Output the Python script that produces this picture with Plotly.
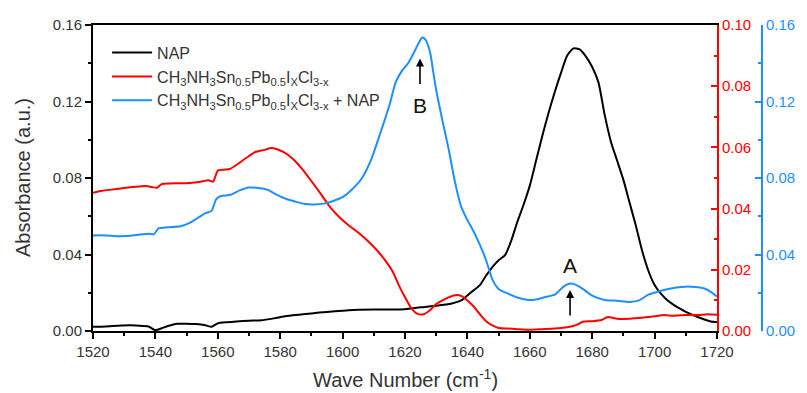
import plotly.graph_objects as go

# ---------------- data ----------------
nap_x = [1520, 1524, 1528, 1532, 1536, 1538, 1540, 1542, 1544, 1547, 1550, 1553, 1556, 1558, 1560, 1563,
         1566, 1570, 1574, 1578, 1582, 1586, 1590, 1595, 1600, 1605, 1610, 1615, 1620, 1625, 1630, 1635,
         1638, 1641, 1644, 1646, 1648, 1650, 1652, 1654, 1656, 1658, 1660, 1662, 1664, 1666, 1668, 1670,
         1672, 1674, 1676, 1678, 1680, 1682, 1684, 1686, 1688, 1690, 1692, 1694, 1696, 1698, 1700, 1702,
         1704, 1706, 1708, 1710, 1712, 1714, 1716, 1718, 1720]
nap_y = [.0022, .0024, .0028, .0030, .0026, .0022, .0004, .0014, .0026, .0038, .0038, .0036, .0030, .0022,
         .0040, .0046, .0050, .0054, .0056, .0066, .0078, .0085, .0092, .0100, .0106, .0111, .0112, .0112,
         .0114, .0124, .0132, .0144, .0160, .0200, .0240, .0290, .0334, .0370, .0395, .0470, .0570, .0660,
         .0760, .0890, .1020, .1140, .1250, .1350, .1440, .1478, .1472, .1435, .1380, .1300, .1130, .0990,
         .0890, .0790, .0670, .0550, .0420, .0315, .0240, .0195, .0162, .0138, .0118, .0100, .0085, .0072,
         .0060, .0050, .0047]

blue_x = [1520, 1524, 1528, 1532, 1535, 1538, 1539.5, 1541, 1544, 1548, 1551, 1554, 1556, 1558, 1559.5,
          1561, 1564, 1567, 1570, 1573, 1576, 1579, 1582, 1585, 1588, 1591, 1594, 1597, 1600, 1603, 1606,
          1609, 1612, 1615, 1617, 1619, 1621, 1623, 1624.5, 1625.5, 1626.5, 1628, 1629, 1630, 1632, 1634,
          1636, 1638, 1640, 1642, 1644, 1646, 1648, 1650, 1653, 1656, 1659, 1662, 1665, 1668, 1671, 1673,
          1675, 1677, 1680, 1684, 1688, 1692, 1695, 1698, 1701, 1704, 1707, 1710, 1713, 1716, 1718, 1720]
blue_y = [.0500, .0500, .0496, .0498, .0504, .0508, .0506, .0536, .0542, .0548, .0565, .0595, .0616, .0628,
          .0690, .0706, .0712, .0735, .0750, .0748, .0738, .0712, .0690, .0676, .0664, .0662, .0666, .0680,
          .0700, .0740, .0795, .0890, .1030, .1180, .1300, .1360, .1400, .1460, .1510, .1535, .1525, .1460,
          .1360, .1260, .1100, .0950, .0780, .0650, .0580, .0520, .0450, .0370, .0270, .0220, .0195, .0175,
          .0163, .0165, .0178, .0190, .0235, .0248, .0240, .0220, .0185, .0162, .0158, .0152, .0160, .0190,
          .0205, .0218, .0228, .0232, .0230, .0222, .0205, .0180]

red_x = [1520, 1523, 1526, 1529, 1532, 1535, 1537, 1539, 1540.5, 1542, 1545, 1548, 1551, 1554, 1557, 1558.5,
         1560, 1562, 1564, 1567, 1570, 1572, 1575, 1577, 1579, 1581, 1584, 1587, 1590, 1593, 1596, 1599,
         1602, 1605, 1608, 1611, 1614, 1616, 1618, 1620, 1622, 1624, 1626, 1628, 1630, 1632, 1634, 1636,
         1638, 1640, 1642, 1644, 1646, 1648, 1650, 1653, 1656, 1660, 1664, 1668, 1672, 1675, 1677, 1680,
         1683, 1685, 1688, 1692, 1696, 1700, 1703, 1706, 1710, 1714, 1717, 1720]
red_y = [.0452, .0458, .0462, .0466, .0470, .0472, .0474, .0470, .0468, .0480, .0482, .0483, .0484, .0487,
         .0493, .0488, .0524, .0527, .0530, .0550, .0572, .0585, .0592, .0598, .0594, .0585, .0563, .0530,
         .0490, .0448, .0405, .0372, .0345, .0322, .0295, .0264, .0226, .0195, .0150, .0110, .0075, .0056,
         .0055, .0068, .0088, .0100, .0110, .0117, .0115, .0100, .0080, .0055, .0032, .0018, .0010, .0008,
         .0006, .0004, .0006, .0008, .0012, .0020, .0030, .0032, .0036, .0046, .0040, .0040, .0043, .0048,
         .0052, .0050, .0052, .0052, .0055, .0053]

x_ticks = [1520, 1540, 1560, 1580, 1600, 1620, 1640, 1660, 1680, 1700, 1720]
left_ticks = [0.00, 0.04, 0.08, 0.12, 0.16]
red_ticks = [0.00, 0.02, 0.04, 0.06, 0.08, 0.10]

names = ["NAP",
         "CH<sub>3</sub>NH<sub>3</sub>Sn<sub>0.5</sub>Pb<sub>0.5</sub>I<sub>X</sub>Cl<sub>3-x</sub>",
         "CH<sub>3</sub>NH<sub>3</sub>Sn<sub>0.5</sub>Pb<sub>0.5</sub>I<sub>X</sub>Cl<sub>3-x</sub> + NAP"]

BLACK = "#000000"
RED = "#FF0000"
BLUE = "#1E8FFF"
TXT = "#333333"
FONT = "Arial, Liberation Sans, sans-serif"

fig = go.Figure()
fig.add_trace(go.Scatter(x=nap_x, y=nap_y, mode="lines", name=names[0],
                         line=dict(color=BLACK, width=2, shape="spline", smoothing=0.6), yaxis="y"))
fig.add_trace(go.Scatter(x=red_x, y=red_y, mode="lines", name=names[1],
                         line=dict(color=RED, width=2, shape="spline", smoothing=0.6), yaxis="y2"))
fig.add_trace(go.Scatter(x=blue_x, y=blue_y, mode="lines", name=names[2],
                         line=dict(color=BLUE, width=2, shape="spline", smoothing=0.6), yaxis="y3"))

W, H = 807, 393
ml, mr, mt, mb = 93, 10, 25, 62
pw = W - ml - mr
x_end = (717 - ml) / pw
blue_pos = (762 - ml) / pw

fig.update_layout(
    width=W, height=H,
    margin=dict(l=ml, r=mr, t=mt, b=mb, autoexpand=False),
    paper_bgcolor="white", plot_bgcolor="white",
    font=dict(family=FONT, size=15, color=TXT),
    showlegend=True,
    legend=dict(x=0.02, y=0.965, xanchor="left", yanchor="top",
                bgcolor="rgba(0,0,0,0)", font=dict(size=16, color=TXT),
                tracegroupgap=0, itemwidth=40),
    xaxis=dict(domain=[0, x_end], range=[1520, 1720], tickvals=x_ticks, automargin=False,
               ticks="outside", ticklen=6, tickwidth=1.5, tickcolor=BLACK,
               showline=True, linecolor=BLACK, linewidth=2, mirror=True,
               showgrid=False, zeroline=False,
               minor=dict(dtick=10, ticks="outside", ticklen=3, tickwidth=1.5, tickcolor=BLACK),
               tickfont=dict(size=15, color=TXT)),
    yaxis=dict(range=[0, 0.16], tickvals=left_ticks, tickformat=".2f", automargin=False,
               ticks="outside", ticklen=6, tickwidth=1.5, tickcolor=BLACK,
               showline=True, linecolor=BLACK, linewidth=2,
               showgrid=False, zeroline=False,
               minor=dict(dtick=0.02, ticks="outside", ticklen=3, tickwidth=1.5, tickcolor=BLACK),
               tickfont=dict(size=15, color=TXT)),
    yaxis2=dict(range=[0, 0.10], tickvals=red_ticks, tickformat=".2f", automargin=False,
                overlaying="y", side="right", anchor="x",
                ticks="inside", ticklen=6, tickwidth=1.5, tickcolor=RED,
                showline=True, linecolor=RED, linewidth=2,
                showgrid=False, zeroline=False,
                minor=dict(dtick=0.01, ticks="inside", ticklen=3, tickwidth=1.5, tickcolor=RED),
                tickfont=dict(size=15, color=RED)),
    yaxis3=dict(range=[0, 0.16], tickvals=left_ticks, tickformat=".2f", automargin=False,
                overlaying="y", side="right", anchor="free", position=blue_pos,
                ticks="inside", ticklen=6, tickwidth=1.5, tickcolor=BLUE,
                showline=True, linecolor=BLUE, linewidth=2,
                showgrid=False, zeroline=False,
                minor=dict(dtick=0.02, ticks="inside", ticklen=3, tickwidth=1.5, tickcolor=BLUE),
                tickfont=dict(size=15, color=BLUE)),
)

# axis titles
fig.add_annotation(text="Absorbance (a.u.)", xref="paper", yref="paper", x=0, y=0.5,
                   xanchor="center", yanchor="middle", xshift=-70, textangle=-90,
                   showarrow=False, font=dict(size=20, color=TXT))
fig.add_annotation(text="Wave Number (cm<sup>-1</sup>)", xref="paper", yref="paper",
                   x=x_end / 2, y=0, xanchor="center", yanchor="middle", yshift=-47,
                   showarrow=False, font=dict(size=20, color=TXT))

# peak labels and arrows
fig.add_annotation(text="B", x=1624.8, y=0.118, xref="x", yref="y", showarrow=False,
                   font=dict(size=21, color="#111111"))
fig.add_annotation(text="", x=1624.8, y=0.1425, xref="x", yref="y", ax=0, ay=27,
                   showarrow=True, arrowhead=2, arrowsize=1, arrowwidth=1.6, arrowcolor=BLACK)
fig.add_annotation(text="A", x=1672.9, y=0.0345, xref="x", yref="y", showarrow=False,
                   font=dict(size=21, color="#111111"))
fig.add_annotation(text="", x=1672.9, y=0.0214, xref="x", yref="y", ax=0, ay=27,
                   showarrow=True, arrowhead=2, arrowsize=1, arrowwidth=1.6, arrowcolor=BLACK)

fig.write_html("out.html")
